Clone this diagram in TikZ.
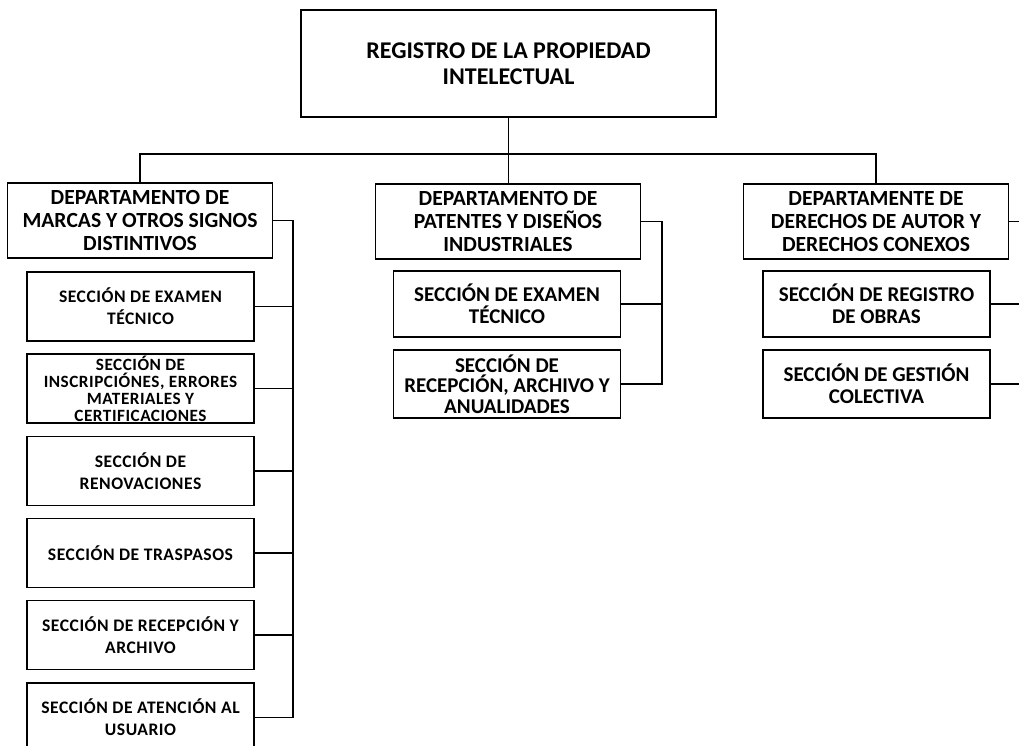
\documentclass[tikz,border=0pt]{standalone}
\usepackage{fontspec}
\setmainfont{Carlito}
\newfontfamily\spaced[LetterSpace=3]{Carlito}
\begin{document}
\begin{tikzpicture}[x=1pt,y=-1pt,
  box/.style={draw, line width=1.8pt, rectangle, align=center, inner sep=1pt, font=\bfseries},
  topbox/.style={box, minimum width=415pt, minimum height=107pt, font=\bfseries\fontsize{24}{26}\selectfont},
  deptbox/.style={box, minimum width=265pt, minimum height=75pt, font=\bfseries\fontsize{21.6}{23}\selectfont},
  lsec/.style={box, minimum width=227pt, minimum height=69pt, font=\spaced\bfseries\fontsize{17.6}{22}\selectfont},
  lsecsmall/.style={box, minimum width=227pt, minimum height=69pt, font=\spaced\bfseries\fontsize{17.2}{17}\selectfont},
  rsec/.style={box, minimum width=227pt, font=\bfseries\fontsize{21}{22}\selectfont},
  rsec3/.style={box, minimum width=227pt, font=\bfseries\fontsize{21}{20.5}\selectfont},
  conn/.style={line width=1.4pt}]
\useasboundingbox (0,0) rectangle (1019,746);
\clip (0,0) rectangle (1019,746);

\node[topbox] (top) at (508.5,63.5) {REGISTRO DE LA PROPIEDAD\\INTELECTUAL};

\node[deptbox] (d1) at (140,220.5) {DEPARTAMENTO DE\\MARCAS Y OTROS SIGNOS\\DISTINTIVOS};
\node[deptbox] (d2) at (508,221.5) {DEPARTAMENTO DE\\PATENTES Y DISEÑOS\\INDUSTRIALES};
\node[deptbox] (d3) at (876,221.5) {DEPARTAMENTE DE\\DERECHOS DE AUTOR Y\\DERECHOS CONEXOS};

\node[lsec] (s11) at (140.5,306.5) {SECCIÓN DE EXAMEN\\TÉCNICO};
\node[lsecsmall] (s12) at (140.5,388.5) {SECCIÓN DE\\INSCRIPCIÓNES, ERRORES\\MATERIALES Y\\CERTIFICACIONES};
\node[lsec] (s13) at (140.5,471) {SECCIÓN DE\\RENOVACIONES};
\node[lsec] (s14) at (140.5,553) {SECCIÓN DE TRASPASOS};
\node[lsec] (s15) at (140.5,635) {SECCIÓN DE RECEPCIÓN Y\\ARCHIVO};
\node[lsec] (s16) at (140.5,717.5) {SECCIÓN DE ATENCIÓN AL\\USUARIO};

\node[rsec, minimum height=66pt] (s21) at (507,304) {SECCIÓN DE EXAMEN\\TÉCNICO};
\node[rsec3, minimum height=68pt] (s22) at (507,384) {SECCIÓN DE\\RECEPCIÓN, ARCHIVO Y\\ANUALIDADES};

\node[rsec, minimum height=66pt] (s31) at (876.5,304) {SECCIÓN DE REGISTRO\\DE OBRAS};
\node[rsec, minimum height=68pt] (s32) at (876.5,384) {SECCIÓN DE GESTIÓN\\COLECTIVA};

% top connectors
\coordinate (barL) at (140,154);
\coordinate (barR) at (876,154);
\draw[conn] (top.south) -- (top.south |- d2.north);
\draw[conn] (d1.north) -- (barL) -- (barR) -- (d3.north);

% left column
\coordinate (L) at (293,0);
\draw[conn] (d1.east) -| (L|-s16.east) -- (s16.east);
\foreach \s in {s11,s12,s13,s14,s15} \draw[conn] (\s.east) -- (L|-\s.east);

% middle column
\coordinate (M) at (662,0);
\draw[conn] (d2.east) -| (M|-s22.east) -- (s22.east);
\draw[conn] (s21.east) -- (M|-s21.east);

% right column
\coordinate (R) at (1030,0);
\draw[conn] (d3.east) -| (R|-s32.east) -- (s32.east);
\draw[conn] (s31.east) -- (R|-s31.east);
\end{tikzpicture}
\end{document}
